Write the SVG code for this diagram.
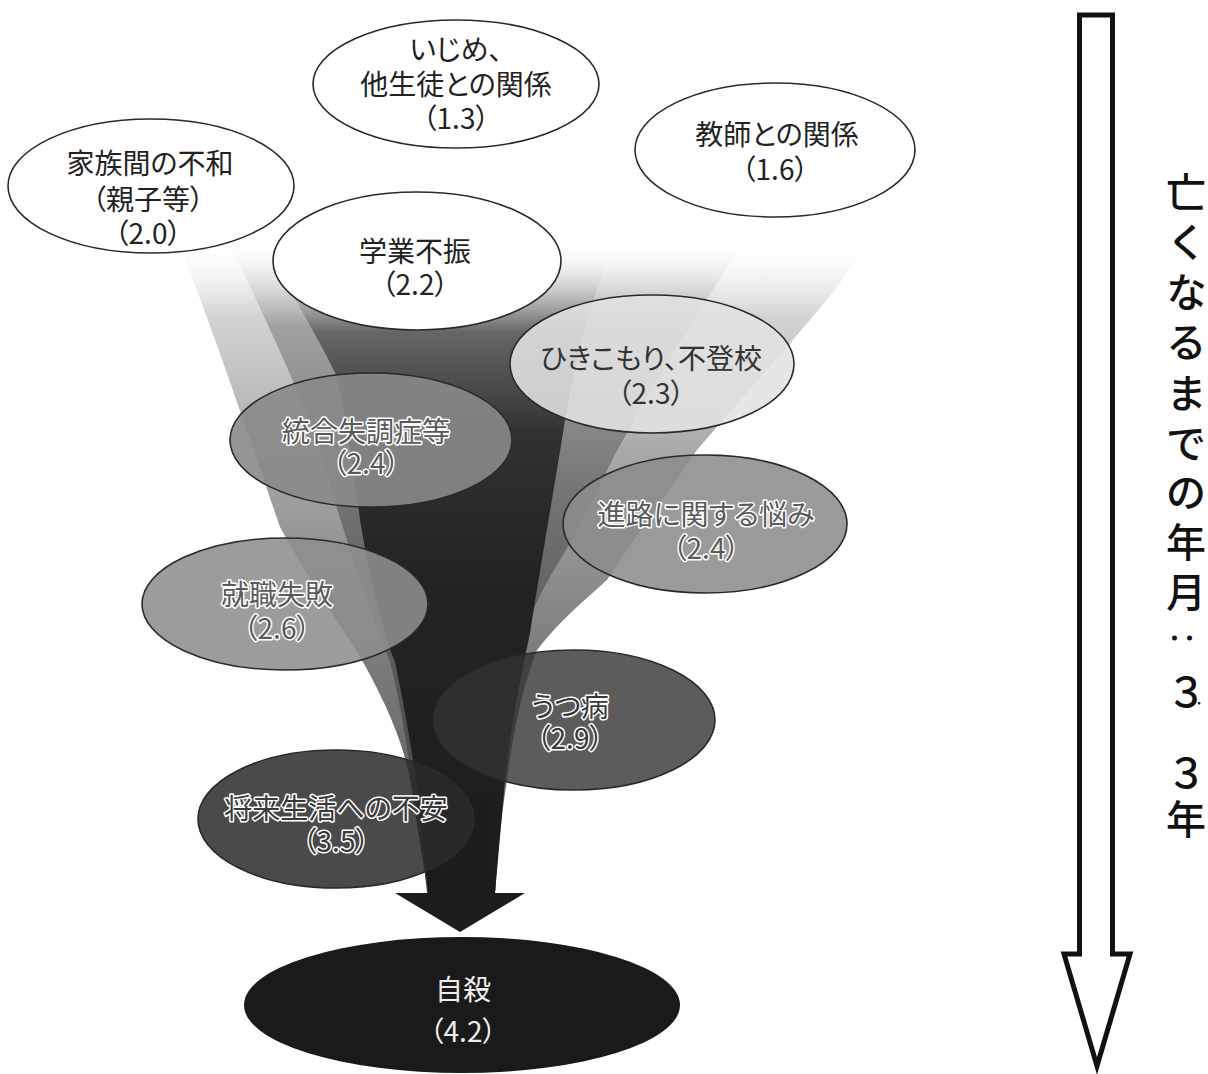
<svg xmlns="http://www.w3.org/2000/svg" width="1208" height="1074" viewBox="0 0 1208 1074">
<style>
text{font-family:"Noto Sans CJK JP","Noto Sans",sans-serif;font-size:28px;text-anchor:middle;dominant-baseline:central;font-feature-settings:"palt"}
.w{fill:#fff;stroke:#2a2a2a;stroke-width:1.6}
.g{stroke:#2a2a2a;stroke-width:1.6}
.t{fill:#222}
.o{fill:#5a5a5a;stroke:#fff;stroke-width:3;paint-order:stroke;stroke-linejoin:round}
.od{fill:#3a3a3a;stroke:#fff;stroke-width:3;paint-order:stroke;stroke-linejoin:round}
.v{font-family:"Noto Sans CJK JP",sans-serif;font-size:40px;font-weight:500;fill:#111}
</style>
<defs>
<linearGradient id="gA" gradientUnits="userSpaceOnUse" x1="0" y1="235" x2="0" y2="900">
<stop offset="0" stop-color="#fff" stop-opacity="0"/>
<stop offset="0.12" stop-color="#cccccc" stop-opacity="0.85"/>
<stop offset="0.33" stop-color="#a8a8a8"/>
<stop offset="0.63" stop-color="#7c7c7c"/>
<stop offset="1" stop-color="#555"/>
</linearGradient>
<linearGradient id="gB" gradientUnits="userSpaceOnUse" x1="0" y1="240" x2="0" y2="900">
<stop offset="0" stop-color="#fff" stop-opacity="0"/>
<stop offset="0.13" stop-color="#9c9c9c" stop-opacity="0.9"/>
<stop offset="0.4" stop-color="#727272"/>
<stop offset="0.7" stop-color="#545454"/>
<stop offset="1" stop-color="#3a3a3a"/>
</linearGradient>
<linearGradient id="gC" gradientUnits="userSpaceOnUse" x1="0" y1="255" x2="0" y2="900">
<stop offset="0" stop-color="#fff" stop-opacity="0"/>
<stop offset="0.12" stop-color="#666"/>
<stop offset="0.28" stop-color="#313131"/>
<stop offset="0.5" stop-color="#232323"/>
<stop offset="1" stop-color="#1c1c1c"/>
</linearGradient>
</defs>

<g id="connectors">
<path fill="url(#gA)" d="M168,215 C210,320 250,440 280,527 C320,600 345,630 363,662 C390,710 405,750 410,780 C418,820 424,860 427,893 L495,893 C498,850 502,810 507,780 C515,720 525,680 537,650 C560,620 585,600 607,580 C640,530 670,490 697,450 C740,400 790,345 835,290 L870,240 Z"/>
<path fill="url(#gB)" d="M225,232 C265,320 300,390 320,450 C345,540 370,610 390,662 C402,710 410,760 413,800 L428,893 L495,893 L500,800 C505,740 512,690 520,650 C530,610 545,585 560,560 C585,520 605,470 627,433 C660,370 700,310 735,255 L752,232 Z"/>
<path fill="url(#gC)" d="M272,255 C300,310 325,350 337,377 C350,440 355,480 360,520 C370,580 382,630 395,662 C405,710 414,760 418,800 L428,893 L495,893 L505,780 C512,720 520,680 530,633 C540,570 552,500 563,433 C572,380 585,310 612,252 Z"/>
<rect x="428" y="800" width="67" height="95" fill="#1c1c1c"/>
<polygon points="395,893 525,893 460,932" fill="#1c1c1c"/>
</g>

<g id="n-ijime">
<ellipse class="w" cx="456" cy="84" rx="143" ry="64"/>
<text class="t" x="456" y="48">いじめ、</text>
<text class="t" x="456" y="83">他生徒との関係</text>
<text class="t" x="456" y="117">（1.3）</text>
</g>
<g id="n-kazoku">
<ellipse class="w" cx="151" cy="186" rx="143" ry="67"/>
<text class="t" x="150" y="162">家族間の不和</text>
<text class="t" x="148" y="198">（親子等）</text>
<text class="t" x="148" y="232">（2.0）</text>
</g>
<g id="n-kyoshi">
<ellipse class="w" cx="775" cy="150" rx="140" ry="67"/>
<text class="t" x="777" y="133">教師との関係</text>
<text class="t" x="775" y="168">（1.6）</text>
</g>
<g id="n-gakugyo">
<ellipse class="w" cx="417" cy="261" rx="144" ry="69"/>
<text class="t" x="415" y="250">学業不振</text>
<text class="t" x="415" y="283">（2.2）</text>
</g>
<g id="n-hikikomori">
<ellipse class="g" cx="652" cy="364" rx="142" ry="69" fill="#e2e2e2" fill-opacity="0.88"/>
<text fill="#333" x="651" y="357">ひきこもり、不登校</text>
<text fill="#333" x="651" y="392">（2.3）</text>
</g>
<g id="n-togo">
<ellipse class="g" cx="371" cy="440" rx="141" ry="67" fill="#8a8a8a" fill-opacity="0.9"/>
<text class="o" x="366" y="430">統合失調症等</text>
<text class="o" x="366" y="462">（2.4）</text>
</g>
<g id="n-shinro">
<ellipse class="g" cx="705" cy="524" rx="142" ry="69" fill="#8c8c8c" fill-opacity="0.88"/>
<text class="o" x="706" y="513">進路に関する悩み</text>
<text class="o" x="706" y="547">（2.4）</text>
</g>
<g id="n-shushoku">
<ellipse class="g" cx="285" cy="604" rx="143" ry="66" fill="#8e8e8e" fill-opacity="0.88"/>
<text class="o" x="277" y="593">就職失敗</text>
<text class="o" x="277" y="627">（2.6）</text>
</g>
<g id="n-utsu">
<ellipse class="g" cx="574" cy="720" rx="141" ry="70" fill="#333" fill-opacity="0.8"/>
<text class="od" x="570" y="705">うつ病</text>
<text class="od" x="570" y="737">（2.9）</text>
</g>
<g id="n-shorai">
<ellipse class="g" cx="336" cy="819" rx="138" ry="69" fill="#2a2a2a" fill-opacity="0.85"/>
<text class="od" x="336" y="807">将来生活への不安</text>
<text class="od" x="336" y="840">（3.5）</text>
</g>
<g id="n-jisatsu">
<ellipse cx="462" cy="1005" rx="218" ry="68" fill="#1a1a1a"/>
<text fill="#eee" x="463" y="988">自殺</text>
<text fill="#eee" x="463" y="1030">（4.2）</text>
</g>

<g id="timeline">
<polygon points="1079.5,15 1112.5,15 1112.5,954 1130,954 1097,1066 1064,954 1079.5,954" fill="#fff" stroke="#111" stroke-width="5" stroke-miterlimit="10"/>
<text class="v" x="1186" y="190">亡</text>
<text class="v" x="1186" y="240">く</text>
<text class="v" x="1186" y="290">な</text>
<text class="v" x="1186" y="340">る</text>
<text class="v" x="1186" y="391">ま</text>
<text class="v" x="1186" y="441">で</text>
<text class="v" x="1186" y="490">の</text>
<text class="v" x="1186" y="540">年</text>
<text class="v" x="1186" y="590">月</text>
<text class="v" x="1184" y="638" transform="rotate(90 1184 638)" style="font-size:30px">：</text>
<text class="v" x="1186" y="690">３</text>
<text class="v" x="1200" y="698" style="font-size:14px">．</text>
<text class="v" x="1186" y="771">３</text>
<text class="v" x="1186" y="817">年</text>
</g>
</svg>
